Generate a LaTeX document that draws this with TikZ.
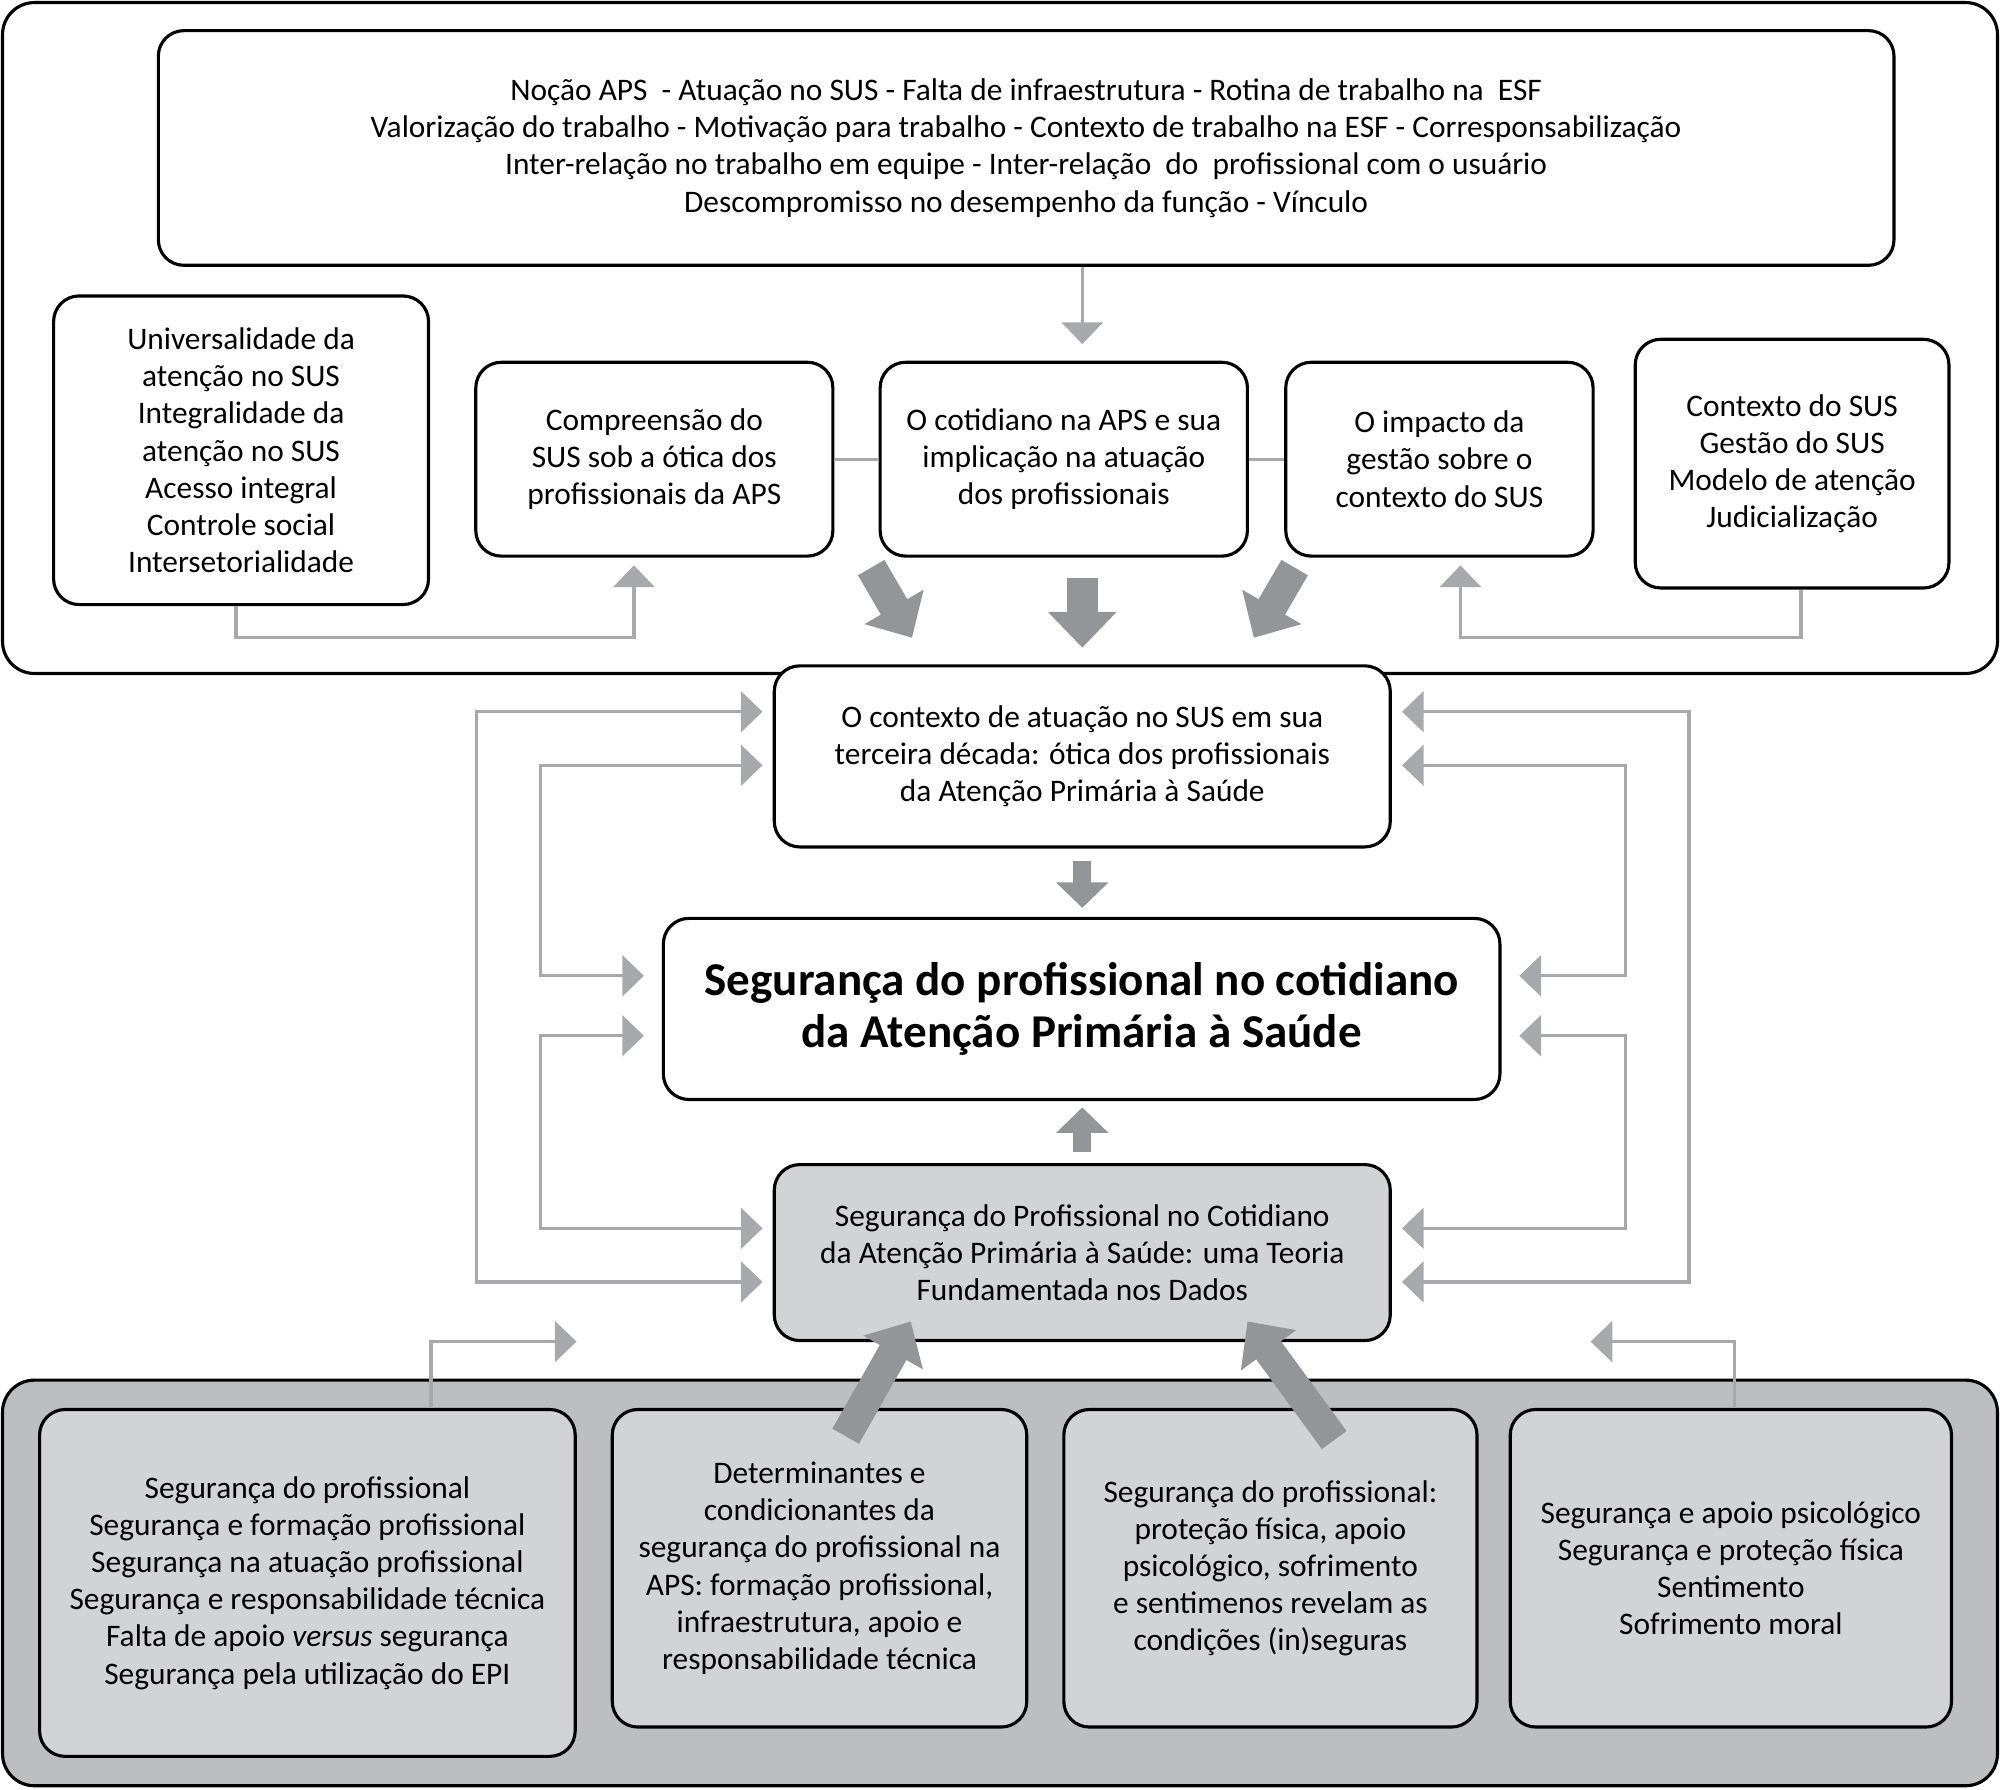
\documentclass[tikz,border=0pt]{standalone}
\usepackage{fontspec}
\setmainfont{Carlito}
\usetikzlibrary{arrows.meta}

\definecolor{linkgray}{HTML}{A7A9AC}
\definecolor{arrowgray}{HTML}{939598}
\definecolor{bandgray}{HTML}{BCBEC0}
\definecolor{boxgray}{HTML}{D1D3D4}

\tikzset{
  box/.style={draw, line width=1.4pt, rounded corners=0.4cm, fill=white, align=center,
    inner sep=0pt, font=\fontsize{14}{16.6}\selectfont},
  graybox/.style={box, fill=boxgray},
  link/.style={draw=linkgray, line width=1.5pt},
  linkto/.style={link, -{Triangle[width=0.64cm,length=0.34cm]}},
  linkboth/.style={link, {Triangle[width=0.64cm,length=0.34cm]}-{Triangle[width=0.64cm,length=0.34cm]}},
  bigarrow/.style={draw=arrowgray, line width=0.48cm, -{Triangle[width=1.04cm,length=0.56cm]}},
  smallarrow/.style={draw=arrowgray, line width=0.28cm, -{Triangle[width=0.8cm,length=0.4cm]}}
}

\begin{document}
\begin{tikzpicture}[x=0.02cm, y=-0.02cm]
  \useasboundingbox (0,0) rectangle (1568,1403);
  % frames
  \draw[line width=1.4pt, rounded corners=0.5cm] (2,2) rectangle (1566,528);
  \draw[line width=1.4pt, rounded corners=0.5cm, fill=bandgray] (2,1082) rectangle (1566,1400);

  % upper part
  \node[box, minimum width=27.22cm, minimum height=3.68cm] (themes) at (804.5,116)
    {Noção APS \ - Atuação no SUS - Falta de infraestrutura - Rotina de trabalho na \ ESF\\
     Valorização do trabalho - Motivação para trabalho - Contexto de trabalho na ESF - Corresponsabilização\\
     Inter-relação no trabalho em equipe - Inter-relação \ do \ profissional com o usuário\\
     Descompromisso no desempenho da função - Vínculo};
  \node[box, minimum width=5.88cm, minimum height=4.84cm] (univ) at (189,353)
    {Universalidade da\\atenção no SUS\\Integralidade da\\atenção no SUS\\Acesso integral\\Controle social\\Intersetorialidade};
  \node[box, minimum width=5.6cm, minimum height=3.04cm] (compr) at (513,360)
    {Compreensão do\\SUS sob a ótica dos\\profissionais da APS};
  \node[box, minimum width=5.76cm, minimum height=3.04cm] (cotid) at (834,360)
    {O cotidiano na APS e sua\\implicação na atuação\\dos profissionais};
  \node[box, minimum width=4.82cm, minimum height=3.04cm] (impacto) at (1128.5,360)
    {O impacto da\\gestão sobre o\\contexto do SUS};
  \node[box, minimum width=4.92cm, minimum height=3.9cm] (ctxsus) at (1405,363.5)
    {Contexto do SUS\\Gestão do SUS\\Modelo de atenção\\Judicialização};

  % middle column
  \node[box, minimum width=9.66cm, minimum height=2.84cm] (contexto) at (848.5,593)
    {O contexto de atuação no SUS em sua\\terceira década: ótica dos profissionais\\da Atenção Primária à Saúde};
  \node[box, minimum width=13.12cm, minimum height=2.84cm, font=\bfseries\fontsize{21}{22.8}\selectfont] (main) at (848,791)
    {Segurança do profissional no cotidiano\\da Atenção Primária à Saúde};
  \node[graybox, minimum width=9.66cm, minimum height=2.76cm] (teoria) at (848.5,982)
    {Segurança do Profissional no Cotidiano\\da Atenção Primária à Saúde: uma Teoria\\Fundamentada nos Dados};

  % lower part
  \node[graybox, minimum width=8.4cm, minimum height=5.44cm] (seg) at (241,1241)
    {Segurança do profissional\\Segurança e formação profissional\\Segurança na atuação profissional\\
     Segurança e responsabilidade técnica\\Falta de apoio \textit{versus} segurança\\Segurança pela utilização do EPI};
  \node[graybox, minimum width=6.5cm, minimum height=4.98cm] (determ) at (642.5,1229.5)
    {Determinantes e\\condicionantes da\\segurança do profissional na\\APS: formação profissional,\\infraestrutura, apoio e\\responsabilidade técnica};
  \node[graybox, minimum width=6.48cm, minimum height=4.98cm] (protec) at (996,1229.5)
    {Segurança do profissional:\\proteção física, apoio\\psicológico, sofrimento\\e sentimenos revelam as\\condições (in)seguras};
  \node[graybox, minimum width=6.92cm, minimum height=4.98cm] (psico) at (1357,1229.5)
    {Segurança e apoio psicológico\\Segurança e proteção física\\Sentimento\\Sofrimento moral};

  % free ends
  \coordinate (lcorner) at (497,500);
  \coordinate (rcorner) at (1145,500);
  \coordinate (dlstart) at (683,445);
  \coordinate (dlend) at (715,500);
  \coordinate (drstart) at (1015,445);
  \coordinate (drend) at (983,500);
  \coordinate (ulstart) at (663,1126);
  \coordinate (ulend) at (714,1036);
  \coordinate (urstart) at (1046,1129);
  \coordinate (urend) at (978,1036);

  % thin connectors, upper part
  \draw[linkto, shorten >=0.26cm] (themes.south -| contexto) -- (cotid.north -| contexto);
  \draw[link] (compr) -- (cotid);
  \draw[link] (cotid) -- (impacto);
  \draw[linkto, shorten >=0.12cm] ([xshift=-0.08cm]univ.south) |- (lcorner) -- (lcorner |- compr.south);
  \draw[linkto, shorten >=0.12cm] ([xshift=0.14cm]ctxsus.south) |- (rcorner) -- (rcorner |- impacto.south);

  % big arrows
  \draw[bigarrow] (dlstart) -- (dlend);
  \draw[bigarrow, shorten <=0.32cm, shorten >=0.26cm] (cotid.south -| contexto) -- (contexto.north);
  \draw[bigarrow] (drstart) -- (drend);
  \draw[smallarrow, shorten <=0.2cm, shorten >=0.14cm] (contexto.south) -- (main.north -| contexto);
  \draw[smallarrow, shorten <=0.18cm, shorten >=0.1cm] (teoria.north) -- (main.south -| teoria);

  % feedback loops, left
  \draw[linkboth, shorten <=0.16cm, shorten >=0.16cm] ([yshift=0.7cm]contexto.west) -- ++(-232,0) |- ([yshift=-0.46cm]teoria.west);
  \draw[linkboth, shorten <=0.16cm, shorten >=0.28cm] ([yshift=-0.14cm]contexto.west) -- ++(-182,0) |- ([yshift=0.52cm]main.west);
  \draw[linkboth, shorten <=0.28cm, shorten >=0.16cm] ([yshift=-0.42cm]main.west) -- ++(-95,0) |- ([yshift=0.38cm]teoria.west);
  % feedback loops, right
  \draw[linkboth, shorten <=0.16cm, shorten >=0.16cm] ([yshift=0.7cm]contexto.east) -- ++(233,0) |- ([yshift=-0.46cm]teoria.east);
  \draw[linkboth, shorten <=0.16cm, shorten >=0.28cm] ([yshift=-0.14cm]contexto.east) -- ++(183,0) |- ([yshift=0.52cm]main.east);
  \draw[linkboth, shorten <=0.28cm, shorten >=0.16cm] ([yshift=-0.42cm]main.east) -- ++(97,0) |- ([yshift=0.38cm]teoria.east);

  % lower part connectors
  \draw[linkto] ([xshift=1.94cm]seg.north) -- ++(0,-52) -- ++(114,0);
  \draw[linkto] ([xshift=0.06cm]psico.north) -- ++(0,-52) -- ++(-113,0);
  \draw[bigarrow] (ulstart) -- (ulend);
  \draw[bigarrow] (urstart) -- (urend);
\end{tikzpicture}
\end{document}
